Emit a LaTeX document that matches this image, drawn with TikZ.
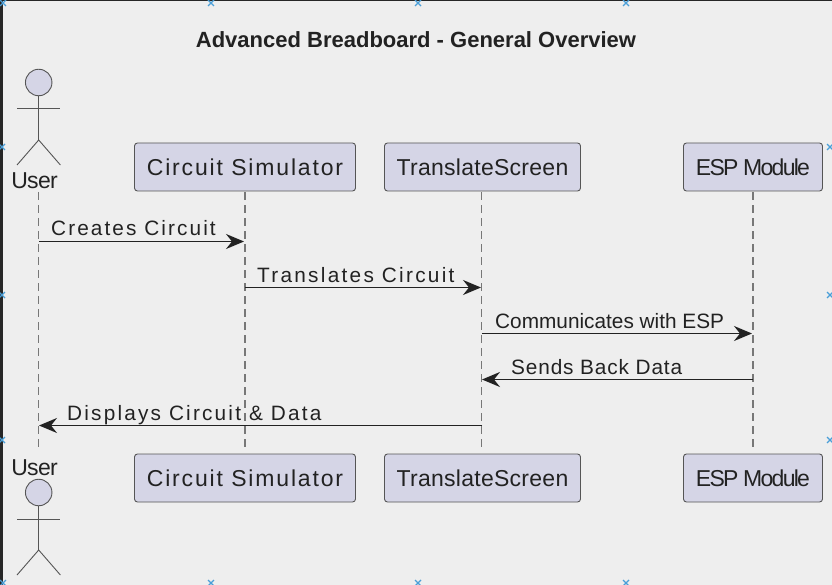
\documentclass[tikz,border=0pt]{standalone}
\usepackage{fontspec}
\setmainfont{Liberation Sans}
\usetikzlibrary{arrows.meta}
\definecolor{bgc}{HTML}{EEEEEE}
\definecolor{boxc}{HTML}{D5D5E6}
\definecolor{linec}{HTML}{555555}
\definecolor{dashc}{HTML}{777777}
\definecolor{msgc}{HTML}{222222}
\definecolor{markc}{HTML}{4A9FD8}
\newcommand{\lsp}[1]{\addfontfeature{LetterSpace=#1}}
\tikzset{
	part/.style={draw=linec, fill=boxc, rounded corners=3pt, line width=0.9pt, minimum height=48pt, inner sep=0pt, text=msgc, font=\fontsize{23pt}{23pt}\selectfont},
	lifeline/.style={draw=dashc, dash pattern=on 8pt off 5pt, line width=1.2pt, shorten <=1pt, shorten >=6pt},
	msg/.style={draw=msgc, line width=1.8pt, -{Stealth[length=18pt, width=15pt, inset=6pt]}},
	msgtext/.style={anchor=base west, inner sep=0pt, text=msgc, font=\fontsize{20.8pt}{20.8pt}\selectfont},
	actorline/.style={draw=linec, line width=0.9pt},
	actorname/.style={inner sep=0pt, text=msgc, font=\fontsize{23pt}{23pt}\selectfont},
	blue mark/.style={draw=markc, line width=1.2pt}
}
\begin{document}
\begin{tikzpicture}[x=1pt, y=-1pt]
	\useasboundingbox (0,0) rectangle (832,585);
	\fill[bgc] (0,0) rectangle (832,585);
	\fill[black!85] (0,0) rectangle (2.5,585);
	\fill[black!85] (0,0) rectangle (832,1);
	% marks along the edge
	\foreach \x/\y in {3/3, 211/3, 418/3, 626/3, 2/147, 830/147, 2/295, 830/295, 2/440, 830/440, 3/583, 211/583, 418/583, 626/583}
		\draw[blue mark] (\x-3,\y-3) -- (\x+3,\y+3) (\x-3,\y+3) -- (\x+3,\y-3);
	\node (title) at (416,39.5) {\fontsize{22pt}{22pt}\selectfont\bfseries\color{msgc}Advanced Breadboard - General Overview};
	% participants
	\node (simtop)[part, minimum width=221pt] at (245,167) {\lsp{8}Circuit Simulator};
	\node (trtop)[part, minimum width=196pt] at (482.5,167) {\lsp{1.2}TranslateScreen};
	\node (esptop)[part, minimum width=139pt] at (753,167) {\lsp{-7.5}ESP Module};
	\node (simbot)[part, minimum width=221pt] at (245,478) {\lsp{8}Circuit Simulator};
	\node (trbot)[part, minimum width=196pt] at (482.5,478) {\lsp{1.2}TranslateScreen};
	\node (espbot)[part, minimum width=139pt] at (753,478) {\lsp{-7.5}ESP Module};
	% actor on top
	\node (usertop)[actorname] at (34.5,181) {\lsp{-3}User};
	\node (headtop)[circle, draw=linec, fill=boxc, line width=0.9pt, minimum size=26.5pt, inner sep=0pt] at (38.7,82.5) {};
	\coordinate (hiptop) at (38.7,140);
	\draw[actorline] (headtop.south) -- (hiptop);
	\draw[actorline] (17,108.7) -- (60.4,108.7);
	\draw[actorline] (17,165) -- (hiptop) -- (60.4,165);
	% actor below
	\node (userbot)[actorname] at (34.5,467.5) {\lsp{-3}User};
	\node (headbot)[circle, draw=linec, fill=boxc, line width=0.9pt, minimum size=26.5pt, inner sep=0pt] at (38.7,492.5) {};
	\coordinate (hipbot) at (38.7,550);
	\draw[actorline] (headbot.south) -- (hipbot);
	\draw[actorline] (17,519) -- (60.4,519);
	\draw[actorline] (17,575) -- (hipbot) -- (60.4,575);
	% lifelines
	\coordinate (ua) at (38.7,191);
	\coordinate (ub) at (38.7,454);
	\draw[lifeline] (ua) -- (ub);
	\draw[lifeline] (simtop) -- (simbot);
	\draw[lifeline] ([xshift=-0.8pt]trtop.south) -- ([xshift=-0.8pt]trbot.north);
	\draw[lifeline] (esptop) -- (espbot);
	% messages
	\coordinate (m1a) at (39,241.5);
	\coordinate (m1b) at (244,241.5);
	\coordinate (m2a) at (245,287.5);
	\coordinate (m2b) at (481,287.5);
	\coordinate (m3a) at (482,333.5);
	\coordinate (m3b) at (752,333.5);
	\coordinate (m4a) at (753,379.5);
	\coordinate (m4b) at (482,379.5);
	\coordinate (m5a) at (482,425.5);
	\coordinate (m5b) at (39,425.5);
	\draw[msg] (m1a) -- (m1b);
	\draw[msg] (m2a) -- (m2b);
	\draw[msg] (m3a) -- (m3b);
	\draw[msg] (m4a) -- (m4b);
	\draw[msg] (m5a) -- (m5b);
	\node (t1)[msgtext] at (51,236) {\lsp{10}Creates Circuit};
	\node (t2)[msgtext] at (257,282) {\lsp{10.9}Translates Circuit};
	\node (t3)[msgtext] at (495,328) {Communicates with ESP};
	\node (t4)[msgtext] at (511,374) {\lsp{4.1}Sends Back Data};
	\node (t5)[msgtext] at (67,420) {\lsp{10.5}Displays Circuit \& Data};
\end{tikzpicture}
\end{document}
